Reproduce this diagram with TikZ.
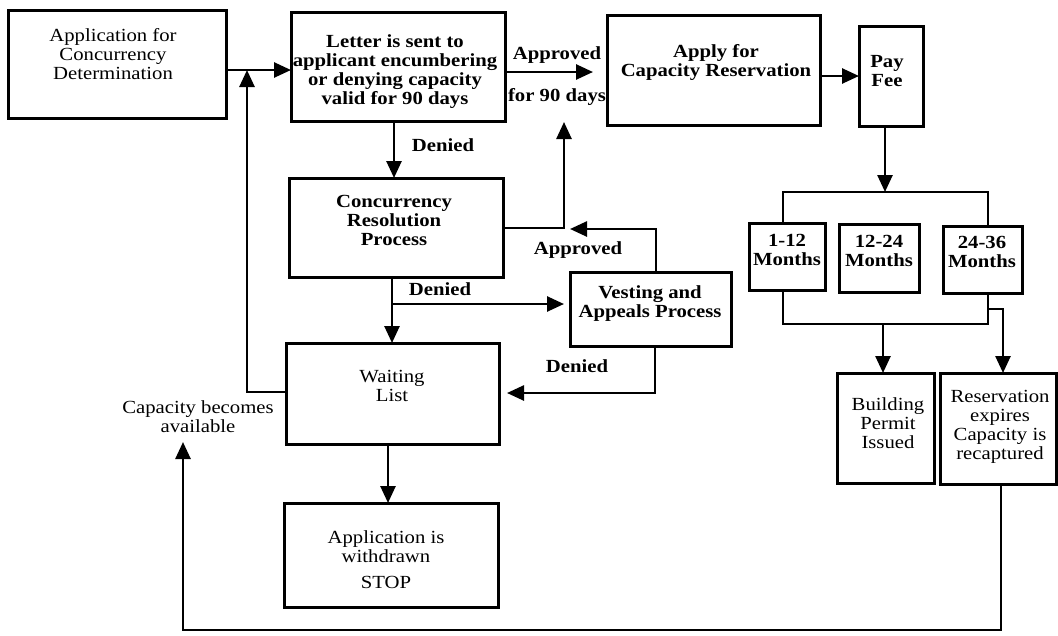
\documentclass[tikz,border=0pt]{standalone}
\usepackage{fontspec}
\setmainfont{Liberation Serif}[FakeStretch=1.12]
\usetikzlibrary{arrows.meta}
\begin{document}
\begin{tikzpicture}[x=1pt,y=-1pt,
  box/.style={draw, line width=3pt, inner sep=0pt, outer sep=0pt, rectangle},
  conn/.style={line width=2.6pt},
  arr/.style={conn, -{Triangle[length=17pt,width=15pt]}},
  lbl/.style={align=center, font=\fontsize{18.5}{19}\selectfont\bfseries, inner sep=0pt},
  lblr/.style={align=center, font=\fontsize{18.5}{19}\selectfont, inner sep=0pt},
]
\useasboundingbox (0,0) rectangle (1058,635);

% boxes
\node[box, minimum width=218pt, minimum height=108pt] (app) at (117,64) {};
\node[lblr] (appt) at (113,54) {Application for\\Concurrency\\Determination};
\node[box, minimum width=214pt, minimum height=109pt] (letter) at (398,66.5) {};
\node[lbl] (lettert) at (395,72) {Letter is sent to\\applicant encumbering\\or denying capacity\\valid for 90 days};
\node[box, minimum width=214pt, minimum height=99pt] (crp) at (396,227.5) {};
\node[lbl] (crpt) at (394,220) {Concurrency\\Resolution\\Process};
\node[box, minimum width=213pt, minimum height=110pt] (apply) at (713.5,70) {};
\node[lbl] (applyt) at (716,62) {Apply for\\Capacity Reservation};
\node[box, minimum width=64pt, minimum height=100pt] (pay) at (891,76) {};
\node[lbl] (payt) at (887,71) {Pay\\Fee};
\node[box, minimum width=76pt, minimum height=67pt] (m1) at (787,256.5) {};
\node[lbl] (m1t) at (787,250) {1-12\\Months};
\node[box, minimum width=80pt, minimum height=68pt] (m2) at (879,258) {};
\node[lbl] (m2t) at (879,251) {12-24\\Months};
\node[box, minimum width=79pt, minimum height=67pt] (m3) at (982.5,259.5) {};
\node[lbl] (m3t) at (982,252) {24-36\\Months};
\node[box, minimum width=161pt, minimum height=74pt] (vest) at (650.5,309) {};
\node[lbl] (vestt) at (650,304) {Vesting and\\Appeals Process};
\node[box, minimum width=213pt, minimum height=101pt] (wait) at (392.5,393.5) {};
\node[lblr] (waitt) at (392,386) {Waiting\\List};
\node[box, minimum width=214pt, minimum height=104pt] (wd) at (391,555) {};
\node[lblr] (wdt) at (386,560) {Application is\\withdrawn\\[7pt]STOP};
\node[box, minimum width=97pt, minimum height=110pt] (bp) at (885.5,428) {};
\node[lblr] (bpt) at (888,423) {Building\\Permit\\Issued};
\node[box, minimum width=116pt, minimum height=111pt] (res) at (998,428.5) {};
\node[lblr] (rest) at (1000,427) {Reservation\\expires\\Capacity is\\recaptured};

% labels
\node[lbl] (d1) at (443,145) {Denied};
\node[lbl] (ap1) at (557,55) {Approved};
\node[lbl] (f90) at (557,97) {for 90 days};
\node[lbl] (ap2) at (578,250) {Approved};
\node[lbl] (d2) at (440,289) {Denied};
\node[lbl] (d3) at (577,366) {Denied};
\node[lblr] (cap) at (198,417) {Capacity becomes\\available};

% junction coordinates
\coordinate (j1) at (247,70);
\coordinate (j2) at (564,122);
\coordinate (j3) at (570,229);
\coordinate (j4) at (392,304);
\coordinate (j5) at (183,442);
\coordinate (btop) at (885,192);
\coordinate (bbot) at (883,324);
\coordinate (bright) at (988,309);

% connectors
\draw[arr] (app.east |- j1) -- (letter.west |- j1);
\draw[arr] (wait.west |- 0,392) -| (j1);
\draw[arr] (394,0 |- letter.south) -- (394,0 |- crp.north);
\draw[arr, shorten >=14pt] (letter.east |- 0,72) -- (apply.west |- 0,72);
\draw[arr] (crp.east |- 0,228) -| (j2);
\draw[arr] (656,0 |- vest.north) |- (j3);
\draw[arr] (392,0 |- crp.south) -- (392,0 |- wait.north);
\draw[arr, shorten >=6pt] (j4) -- (vest.west |- j4);
\draw[arr, shorten >=8pt] (655,0 |- vest.south) |- (wait.east |- 0,393);
\draw[arr] (388,0 |- wait.south) -- (388,0 |- wd.north);
\draw[arr] (apply.east |- 0,76) -- (pay.west |- 0,76);
\draw[arr] (885,0 |- pay.south) -- (btop);
\draw[conn] (783,0 |- m1.north) |- (988,192) -- (988,0 |- m3.north);
\draw[conn] (783,0 |- m1.south) |- (988,324) -- (988,0 |- m3.south);
\draw[arr] (bbot) -- (883,0 |- bp.north);
\draw[arr] (bright) -| (1003,0 |- res.north);
\draw[arr] (1001,0 |- res.south) |- (183,630) -- (j5);
\end{tikzpicture}
\end{document}
